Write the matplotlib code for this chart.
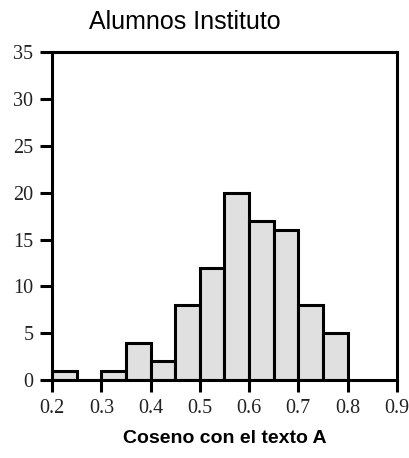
import numpy as np
import matplotlib.pyplot as plt

# datos del histograma
bordes = [0.2, 0.25, 0.3, 0.35, 0.4, 0.45, 0.5, 0.55, 0.6, 0.65, 0.7, 0.75, 0.8]
frecuencias = [1, 0, 1, 4, 2, 8, 12, 20, 17, 16, 8, 5]
xticks = [0.2, 0.3, 0.4, 0.5, 0.6, 0.7, 0.8, 0.9]
yticks = [0, 5, 10, 15, 20, 25, 30, 35]

fig = plt.figure(figsize=(4.1, 4.58), dpi=100)
ax = fig.add_axes([0.127, 0.170, 0.841, 0.716])

anchos = np.diff(bordes)
ax.bar(bordes[:-1], frecuencias, width=anchos, align='edge',
       color='#e0e0e0', edgecolor='black', linewidth=2.2)

ax.set_xlim(0.2, 0.9)
ax.set_ylim(0, 35)
ax.set_xticks(xticks)
ax.set_xticklabels([f'{t:.1f}' for t in xticks])
ax.set_yticks(yticks)

for s in ax.spines.values():
    s.set_linewidth(2.2)
ax.tick_params(direction='out', length=8.5, width=2.2, labelsize=14.5, pad=5)
for lab in ax.get_xticklabels() + ax.get_yticklabels():
    lab.set_family('Liberation Serif')
    lab.set_color('#222222')

fig.text(0.45, 0.952, 'Alumnos Instituto', ha='center', va='center',
         family='Liberation Sans', fontsize=18)
ax.set_xlabel('Coseno con el texto A', family='Liberation Sans',
              fontsize=14, fontweight='bold', labelpad=9)

plt.savefig('out.png', dpi=100)
